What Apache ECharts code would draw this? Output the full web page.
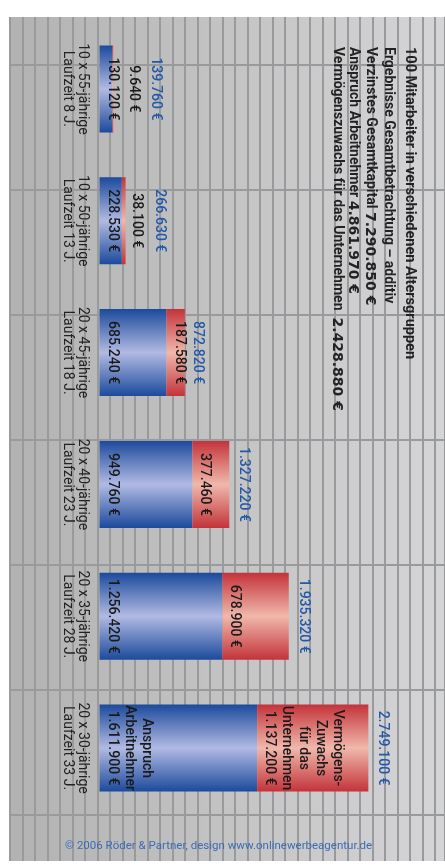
<!DOCTYPE html>
<html>
<head>
<meta charset="utf-8">
<script src="https://cdn.jsdelivr.net/npm/echarts@6/dist/echarts.min.js"></script>
<style>
html,body{margin:0;padding:0;background:#fff;}
#chart{width:445px;height:867px;}
</style>
</head>
<body>
<div id="chart"></div>
<script>
const categories = [
  '10 x 55-jährige\nLaufzeit 8 J.',
  '10 x 50-jährige\nLaufzeit 13 J.',
  '20 x 45-jährige\nLaufzeit 18 J.',
  '20 x 40-jährige\nLaufzeit 23 J.',
  '20 x 35-jährige\nLaufzeit 28 J.',
  '20 x 30-jährige\nLaufzeit 33 J.'
];
const employeeClaim = [130120, 228530, 685240, 949760, 1256420, 1611900];
const companyGain = [9640, 38100, 187580, 377460, 678900, 1137200];
const employeeLabelPrefix = ['', '', '', '', '', 'Anspruch\nArbeitnehmer'];
const companyLabelPrefix = ['', '', '', '', '', 'Vermögens-\nZuwachs\nfür das\nUnternehmen'];
const titleText = ['100 Mitarbeiter in verschiedenen Altersgruppen', 'Ergebnisse Gesamtbetrachtung – additiv', 'Verzinstes Gesamtkapital ', 'Anspruch Arbeitnehmer ', 'Vermögenszuwachs für das Unternehmen  '];
const titleNumbers = ['', '', '7.290.850 €', '4.861.970 €', '2.428.880 €'];
const footerText = '© 2006 Röder & Partner, design www.onlinewerbeagentur.de';

// layout/style settings (not data)
const totalLabelGap = [34, 25, 4, 6, 6, 6];
const companyOutside = [12, 2, null, null, null, null];
const titleX = [410, 388, 370, 353, 337];

const FONT = 'Roboto';
function fmt(v) {
  return String(v).replace(/\B(?=(\d{3})+(?!\d))/g, '.') + ' €';
}
const totals = employeeClaim.map((v, i) => v + companyGain[i]);

const blueGrad = new echarts.graphic.LinearGradient(0, 0, 0, 1, [
  {offset: 0, color: '#1c4a9c'},
  {offset: 0.5, color: '#b1bae3'},
  {offset: 1, color: '#1c4a9c'}
]);
const redGrad = new echarts.graphic.LinearGradient(0, 0, 0, 1, [
  {offset: 0, color: '#c3333a'},
  {offset: 0.5, color: '#f0b8ab'},
  {offset: 1, color: '#c3333a'}
]);

const baseLabel = {
  show: true,
  rotate: -90,
  align: 'center',
  verticalAlign: 'bottom',
  fontFamily: FONT,
  fontSize: 14,
  fontWeight: 500,
  lineHeight: 17,
  color: '#1a1a1a'
};

const chart = echarts.init(document.getElementById('chart'), null, {renderer: 'canvas'});

chart.setOption({
  animation: false,
  backgroundColor: '#ffffff',
  title: {
    text: footerText,
    left: 60,
    top: 835,
    textStyle: {fontFamily: FONT, fontSize: 11.5, fontWeight: 'normal', color: '#3a6cb4'}
  },
  grid: [
    {left: 10, width: 435, top: 17, height: 844, show: true, borderWidth: 0,
     backgroundColor: new echarts.graphic.LinearGradient(0, 0, 1, 0, [
       {offset: 0, color: '#b2b2b2'}, {offset: 1, color: '#d5d5d7'}
     ])},
    {left: 10, width: 435, top: 65, height: 750, show: false},
    {left: 99.5, width: 293.4, top: 23, height: 791, show: false}
  ],
  xAxis: [
    {gridIndex: 0, type: 'value', min: 0, max: 34.8, interval: 1,
     axisLine: {show: false}, axisTick: {show: false}, axisLabel: {show: false},
     splitLine: {show: true, lineStyle: {color: '#999a9c', width: 2}}},
    {gridIndex: 1, type: 'value', min: 0, max: 1, show: false},
    {gridIndex: 2, type: 'value', min: 0, max: 3000000,
     axisLine: {show: false}, axisTick: {show: false}, axisLabel: {show: false},
     splitLine: {show: false}}
  ],
  yAxis: [
    {gridIndex: 0, type: 'value', show: false},
    {gridIndex: 1, type: 'value', min: 0, max: 6, interval: 1,
     axisLine: {show: false}, axisTick: {show: false}, axisLabel: {show: false},
     splitLine: {show: true, lineStyle: {color: '#999a9c', width: 2}}},
    {gridIndex: 2, type: 'category', data: categories, inverse: true,
     axisLine: {show: false}, axisTick: {show: false}, splitLine: {show: false},
     axisLabel: {
       rotate: -90, align: 'center', verticalAlign: 'top', margin: 10,
       fontFamily: FONT, fontSize: 14, lineHeight: 15, color: '#222'
     }}
  ],
  graphic: titleText.map((t, i) => ({
    type: 'text',
    x: titleX[i],
    y: 47,
    z: 100,
    rotation: -Math.PI / 2,
    style: {
      text: '{t|' + t + '}' + (titleNumbers[i] ? '{n|' + titleNumbers[i] + '}' : ''),
      textAlign: 'left',
      textVerticalAlign: 'middle',
      rich: {
        t: {fontFamily: FONT, fontSize: i === 0 ? 14.5 : 14, fontWeight: 'bold', fill: '#222'},
        n: {fontFamily: 'DejaVu Sans', fontSize: 14, fontWeight: 'bold', fill: '#222'}
      }
    }
  })),
  series: [
    {
      name: 'Anspruch Arbeitnehmer',
      type: 'bar',
      xAxisIndex: 2, yAxisIndex: 2,
      stack: 'total',
      barWidth: 87,
      barGap: '-100%',
      itemStyle: {color: blueGrad},
      label: Object.assign({}, baseLabel, {
        position: 'insideLeft', distance: 4,
        formatter: p => (employeeLabelPrefix[p.dataIndex] ? employeeLabelPrefix[p.dataIndex] + '\n' : '') + fmt(p.value)
      }),
      data: employeeClaim
    },
    {
      name: 'Vermögenszuwachs',
      type: 'bar',
      xAxisIndex: 2, yAxisIndex: 2,
      stack: 'total',
      barWidth: 87,
      barGap: '-100%',
      itemStyle: {color: redGrad},
      data: companyGain.map((v, i) => ({
        value: v,
        label: Object.assign({}, baseLabel, companyOutside[i] !== null
          ? {position: 'right', distance: companyOutside[i]}
          : {position: 'insideLeft', distance: 4},
          {formatter: p => (companyLabelPrefix[p.dataIndex] ? companyLabelPrefix[p.dataIndex] + '\n' : '') + fmt(p.value)})
      }))
    },
    {
      name: 'Gesamt',
      type: 'bar',
      xAxisIndex: 2, yAxisIndex: 2,
      barWidth: 87,
      barGap: '-100%',
      silent: true,
      z: 1,
      itemStyle: {color: 'rgba(0,0,0,0)'},
      data: totals.map((v, i) => ({
        value: v,
        label: Object.assign({}, baseLabel, {
          position: 'right', distance: totalLabelGap[i],
          color: '#2458a8',
          formatter: p => fmt(p.value)
        })
      }))
    }
  ]
});
</script>
</body>
</html>
